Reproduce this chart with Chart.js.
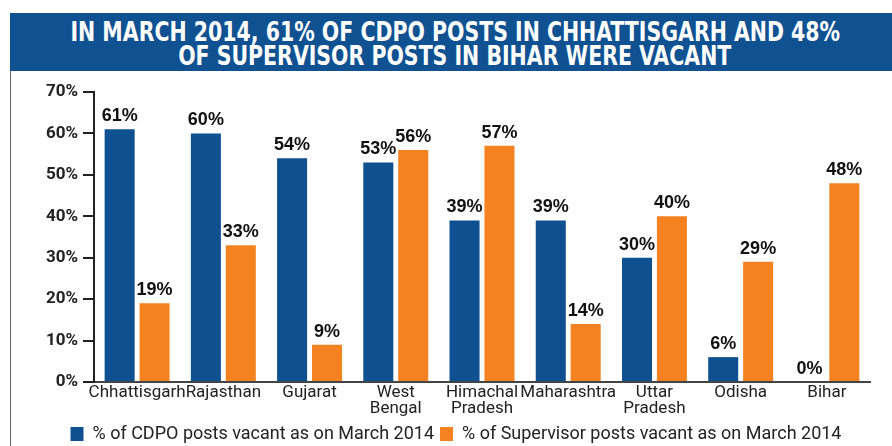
<!DOCTYPE html>
<html>
<head>
<meta charset="utf-8">
<script src="https://cdn.jsdelivr.net/npm/chart.js@4/dist/chart.umd.min.js"></script>
<style>
  body { margin: 0; background: #fff; }
  #wrap { position: relative; width: 892px; height: 446px; overflow: hidden; }
  #titulo {
    position: absolute; left: 10px; top: 13px; width: 890px; height: 58px;
    background: #0f5191; color: #fff; text-align: center;
    font-family: "DejaVu Sans Condensed", "DejaVu Sans", sans-serif;
    font-weight: bold; font-size: 26px; line-height: 24px;
    padding-top: 7px; box-sizing: border-box;
  }
  #titulo span { display: inline-block; white-space: nowrap; transform-origin: 50% 50%; }
  #borde { position: absolute; left: 10px; top: 71px; width: 1px; height: 375px; background: #666; }
  canvas { position: absolute; left: 0; top: 0; }
</style>
</head>
<body>
<div id="wrap">
  <canvas id="graficaVacantes" width="892" height="446"></canvas>
  <div id="titulo"><span>IN MARCH 2014, 61% OF CDPO POSTS IN CHHATTISGARH AND 48%</span><br><span>OF SUPERVISOR POSTS IN BIHAR WERE VACANT</span></div>
  <div id="borde"></div>
</div>
<script>
// Estados y porcentajes de puestos vacantes (marzo 2014)
var estados = ['Chhattisgarh', 'Rajasthan', 'Gujarat', ['West', 'Bengal'], ['Himachal', 'Pradesh'],
  'Maharashtra', ['Uttar', 'Pradesh'], 'Odisha', 'Bihar'];
var vacantesCdpo = [61, 60, 54, 53, 39, 39, 30, 6, 0];
var vacantesSupervisor = [19, 33, 9, 56, 57, 14, 40, 29, 48];
var yMax = 70;
var yPaso = 10;

var fuente = 'Roboto, "Liberation Sans", Arial, sans-serif';

// Comprimir el titulo a lo ancho para que quepa como fuente condensada
var lineasTitulo = document.querySelectorAll('#titulo span');
var escalaTitulo = 770 / lineasTitulo[0].offsetWidth;
lineasTitulo.forEach(function (s) { s.style.transform = 'scaleX(' + escalaTitulo + ')'; });

// Escribe el porcentaje encima de cada barra
var etiquetasBarras = {
  id: 'etiquetasBarras',
  afterDatasetsDraw: function (chart) {
    var ctx = chart.ctx;
    ctx.save();
    ctx.font = 'bold 18px "Liberation Sans", Arial, sans-serif';
    ctx.fillStyle = '#111';
    ctx.textAlign = 'center';
    ctx.textBaseline = 'alphabetic';
    chart.data.datasets.forEach(function (ds, i) {
      chart.getDatasetMeta(i).data.forEach(function (barra, j) {
        ctx.fillText(ds.data[j] + '%', barra.x, barra.y - 8);
      });
    });
    ctx.restore();
  }
};

var ctx = document.getElementById('graficaVacantes').getContext('2d');
var grafica = new Chart(ctx, {
  type: 'bar',
  data: {
    labels: estados,
    datasets: [{
      label: '% of CDPO posts vacant as on March 2014',
      data: vacantesCdpo,
      backgroundColor: '#0f5190',
      categoryPercentage: 0.81,
      barPercentage: 0.86
    }, {
      label: '% of Supervisor posts vacant as on March 2014',
      data: vacantesSupervisor,
      backgroundColor: '#f48220',
      categoryPercentage: 0.81,
      barPercentage: 0.86
    }]
  },
  options: {
    responsive: false,
    animation: false,
    layout: { padding: { top: 92, right: 22, left: 42, bottom: -7 } },
    plugins: {
      tooltip: { enabled: false },
      legend: {
        position: 'bottom',
        labels: {
          boxWidth: 13, boxHeight: 14, padding: 6,
          color: '#222', font: { family: fuente, size: 18 }
        }
      }
    },
    scales: {
      x: {
        grid: { display: false, drawTicks: false },
        border: { color: '#444', width: 2 },
        ticks: {
          color: '#222', padding: 3, maxRotation: 0, autoSkip: false,
          font: { family: fuente, size: 17, lineHeight: 0.95 }
        },
        afterFit: function (escala) { escala.height = 37; }
      },
      y: {
        min: 0, max: yMax,
        ticks: {
          stepSize: yPaso, padding: 5, color: '#222',
          font: { family: fuente, size: 17, weight: 'bold' },
          callback: function (v) { return v + '%'; }
        },
        grid: { drawOnChartArea: false, tickLength: 11, color: '#222', lineWidth: 2 },
        border: { color: '#222', width: 2 },
        afterFit: function (escala) { escala.width = 52; }
      }
    }
  },
  plugins: [etiquetasBarras]
});
</script>
</body>
</html>
